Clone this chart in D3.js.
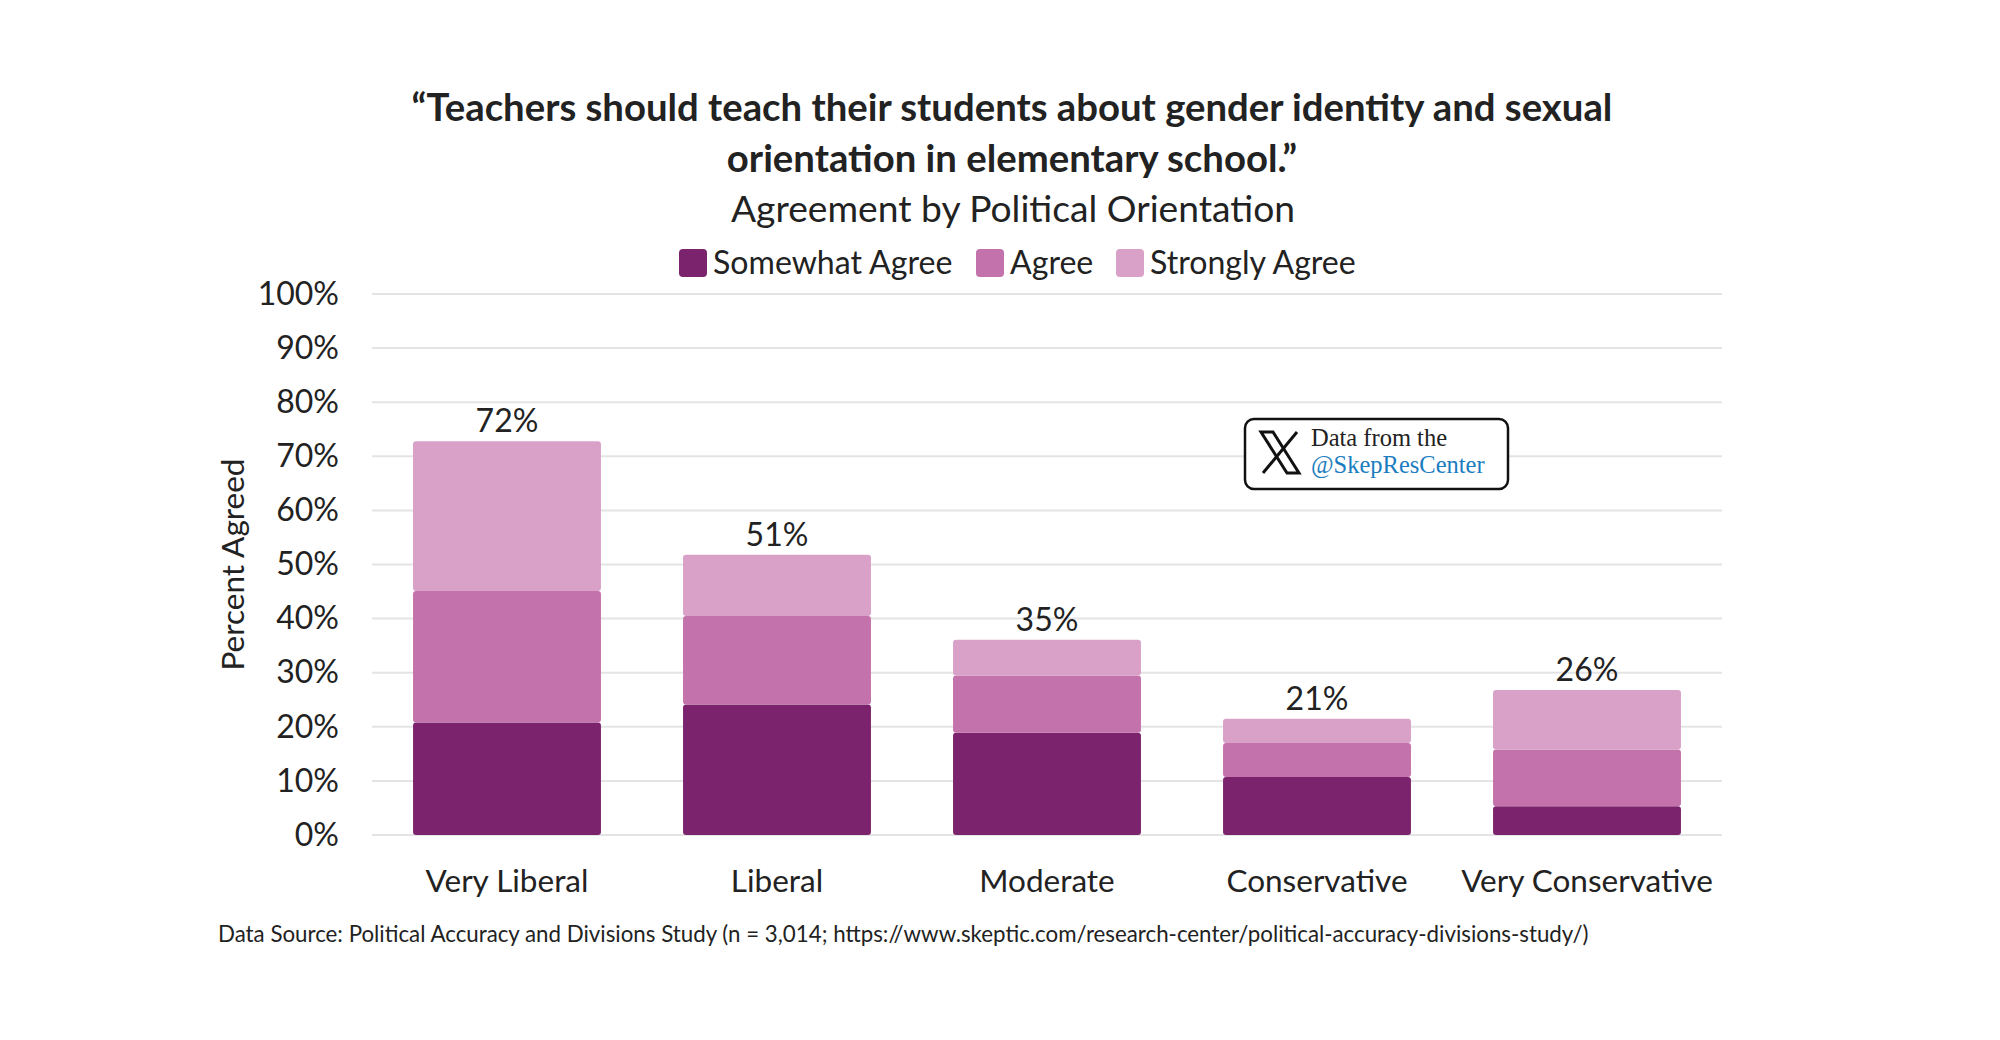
<!DOCTYPE html>
<html>
<head>
<meta charset="utf-8">
<script src="https://cdn.jsdelivr.net/npm/d3@7"></script>
<style>
  body { margin: 0; background: #fff; }
  text { font-family: Lato, "Noto Sans", sans-serif; fill: #222; }
</style>
</head>
<body>
<div id="area"></div>
<script>
// data
var categories = ["Very Liberal", "Liberal", "Moderate", "Conservative", "Very Conservative"];
var seriesNames = ["Somewhat Agree", "Agree", "Strongly Agree"];
var somewhatAgree = [20.8, 24.1, 18.9, 10.7, 5.3];
var agree = [24.3, 16.4, 10.6, 6.3, 10.5];
var stronglyAgree = [27.7, 11.3, 6.6, 4.5, 11.0];
var totalLabels = ["72%", "51%", "35%", "21%", "26%"];
var yTicks = [0, 10, 20, 30, 40, 50, 60, 70, 80, 90, 100];
var colors = ["#7b246d", "#c472ab", "#d9a1c7"];

var width = 2000, height = 1040;
var margin = { top: 294, right: 278, bottom: 205, left: 372 };

var svg = d3.select("#area")
    .append("svg")
    .attr("width", width)
    .attr("height", height);

var rows = categories.map(function (c, i) {
    return { cat: c, "Somewhat Agree": somewhatAgree[i], "Agree": agree[i], "Strongly Agree": stronglyAgree[i] };
});
var stacked = d3.stack().keys(seriesNames)(rows);

var x = d3.scaleBand()
    .domain(categories)
    .range([margin.left, width - margin.right])
    .paddingInner(0.304)
    .paddingOuter(0.152);
var y = d3.scaleLinear()
    .domain([0, 100])
    .range([height - margin.bottom, margin.top]);

// gridlines
svg.append("g")
    .selectAll("line")
    .data(yTicks)
    .join("line")
    .attr("x1", margin.left)
    .attr("x2", width - margin.right)
    .attr("y1", function (d) { return y(d); })
    .attr("y2", function (d) { return y(d); })
    .attr("stroke", "#e4e4e4")
    .attr("stroke-width", 2);

// y axis labels
var yAxis = svg.append("g")
    .attr("transform", "translate(" + (margin.left - 33) + ",0)")
    .call(d3.axisLeft(y).tickValues(yTicks).tickSize(0).tickPadding(0).tickFormat(function (d) { return d + "%"; }));
yAxis.select(".domain").remove();
yAxis.selectAll("text")
    .style("font-family", "Lato, 'Noto Sans', sans-serif")
    .style("font-size", "32px")
    .attr("fill", "#222");

svg.append("text")
    .attr("transform", "translate(244," + y(50) + ") rotate(-90)")
    .attr("text-anchor", "middle")
    .style("font-size", "31.5px")
    .text("Percent Agreed");

// bars
svg.append("g")
    .selectAll("g")
    .data(stacked)
    .join("g")
    .attr("fill", function (d, i) { return colors[i]; })
    .selectAll("rect")
    .data(function (d) { return d; })
    .join("rect")
    .attr("x", function (d) { return x(d.data.cat); })
    .attr("y", function (d) { return y(d[1]); })
    .attr("width", x.bandwidth())
    .attr("height", function (d) { return y(d[0]) - y(d[1]); })
    .attr("rx", 3);

// total labels
svg.append("g")
    .selectAll("text")
    .data(rows)
    .join("text")
    .attr("x", function (d) { return x(d.cat) + x.bandwidth() / 2; })
    .attr("y", function (d, i) { return y(somewhatAgree[i] + agree[i] + stronglyAgree[i]) - 9; })
    .attr("text-anchor", "middle")
    .style("font-size", "32px")
    .text(function (d, i) { return totalLabels[i]; });

// x axis labels
var xAxis = svg.append("g")
    .attr("transform", "translate(0," + (height - margin.bottom + 35) + ")")
    .call(d3.axisBottom(x).tickSize(0).tickPadding(0));
xAxis.select(".domain").remove();
xAxis.selectAll("text")
    .style("font-family", "Lato, 'Noto Sans', sans-serif")
    .style("font-size", "31.5px")
    .attr("fill", "#222");

// titles
svg.append("text")
    .attr("x", 1012).attr("y", 121)
    .attr("text-anchor", "middle")
    .style("font-size", "38.3px").style("font-weight", "bold")
    .text("\u201cTeachers should teach their students about gender identity and sexual");
svg.append("text")
    .attr("x", 1012).attr("y", 172)
    .attr("text-anchor", "middle")
    .style("font-size", "38.3px").style("font-weight", "bold")
    .text("orientation in elementary school.\u201d");
svg.append("text")
    .attr("x", 1013).attr("y", 222)
    .attr("text-anchor", "middle")
    .style("font-size", "37.2px")
    .text("Agreement by Political Orientation");

// legend
var legendX = [679, 976, 1116];
var leg = svg.append("g")
    .selectAll("g")
    .data(seriesNames)
    .join("g")
    .attr("transform", function (d, i) { return "translate(" + legendX[i] + ",249)"; });
leg.append("rect")
    .attr("width", 28).attr("height", 28).attr("rx", 4)
    .attr("fill", function (d, i) { return colors[i]; });
leg.append("text")
    .attr("x", 34).attr("y", 25)
    .style("font-size", "32.1px")
    .text(function (d) { return d; });

// X badge
var badge = svg.append("g").attr("transform", "translate(1245,419)");
badge.append("rect")
    .attr("width", 263).attr("height", 70).attr("rx", 9)
    .attr("fill", "#fff").attr("stroke", "#111").attr("stroke-width", 2.5);
badge.append("path")
    .attr("d", "M16,13 L28,13 L54,54 L42,54 Z")
    .attr("fill", "none").attr("stroke", "#111").attr("stroke-width", 3);
badge.append("path")
    .attr("d", "M52,13 L18,54")
    .attr("stroke", "#111").attr("stroke-width", 3);
badge.append("text")
    .attr("x", 66).attr("y", 27)
    .style("font-family", "'Liberation Serif', 'DejaVu Serif', serif")
    .style("font-size", "24.5px")
    .text("Data from the");
badge.append("text")
    .attr("x", 66).attr("y", 54)
    .style("font-family", "'Liberation Serif', 'DejaVu Serif', serif")
    .style("font-size", "24.5px")
    .style("fill", "#1b7dc0")
    .text("@SkepResCenter");

// footnote
svg.append("text")
    .attr("x", 218).attr("y", 942)
    .style("font-size", "22.3px")
    .text("Data Source: Political Accuracy and Divisions Study (n = 3,014; https://www.skeptic.com/research-center/political-accuracy-divisions-study/)");
</script>
</body>
</html>
